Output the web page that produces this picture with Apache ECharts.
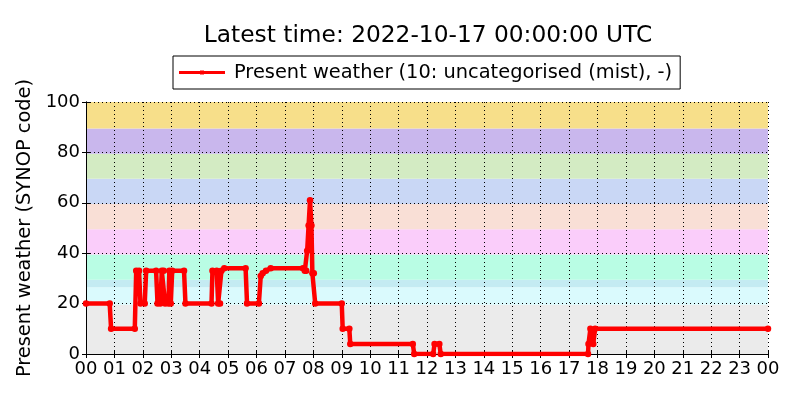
<!DOCTYPE html>
<html>
<head>
<meta charset="utf-8">
<script src="https://cdn.jsdelivr.net/npm/echarts@6/dist/echarts.min.js"></script>
<style>html,body{margin:0;padding:0;background:#fff}#c{width:800px;height:400px}</style>
</head>
<body>
<div id="c"></div>
<script>
// Observation times (HH:MM) and SYNOP present weather codes
const times = ["00:00","00:50","00:53","01:43","01:46","01:52","01:55","02:04","02:07","02:28","02:31","02:37","02:40","02:44","02:47","02:54","02:56","02:59","03:02","03:27","03:30",
  "04:25","04:27","04:36","04:39","04:43","04:46","04:52","05:37","05:40","06:05","06:09","06:13","06:20","06:30","07:38","07:42","07:45","07:47","07:50","07:53","07:56","07:58","08:01","08:04",
  "09:00","09:02","09:16","09:18","11:30","11:33","12:13","12:16","12:26","12:29","17:40","17:41","17:45","17:51","17:55","24:00"];
const codes = [20,20,10,10,33,33,20,20,33,33,20,20,33,33,20,20,33,20,33,33,20,
  20,33,33,20,20,33,34,34,20,20,31,32,33,34,34,33,33,41,51,61,51,32,32,20,
  20,10,10,4,4,0,0,4,4,0,0,4,10,4,10,10];
const hourLabels = ["00","01","02","03","04","05","06","07","08","09","10","11","12","13","14","15","16","17","18","19","20","21","22","23","00"];
// SYNOP code bands: [lower, upper, colour]
const bandLow = [0, 19.5, 26.5, 29.5, 39.5, 49.5, 59.5, 69.5, 79.5, 89.5];
const bandHigh = [19.5, 26.5, 29.5, 39.5, 49.5, 59.5, 69.5, 79.5, 89.5, 100];
const bandColors = ["#ebebeb","#dafafd","#c4ebf2","#b9fde4","#facdfa","#f9dfd6","#c9d7f5","#d3ebc3","#c9b7ed","#f7df8a"];
const seriesName = "Present weather (10: uncategorised (mist), -)";
const titleText = "Latest time: 2022-10-17 00:00:00 UTC";

function toHours(t){ const p=t.split(":"); return (+p[0]) + (+p[1])/60; }
const lineData = times.map((t,i)=>[toHours(t), codes[i]]);
const bandData = bandLow.map((l,i)=>[l, bandHigh[i], i]);

const FONT = "DejaVu Sans";
const chart = echarts.init(document.getElementById('c'), null, {renderer:'canvas'});
const xLab = {fontFamily:FONT, fontSize:18, color:'#000', margin:6, formatter:(v)=>hourLabels[Math.round(v)]};
chart.setOption({
  animation:false,
  backgroundColor:'#fff',
  title:{text:titleText, left:423, top:19, textAlign:'center',
    textStyle:{fontFamily:FONT, fontSize:23.3, fontWeight:'normal', color:'#000'}},
  legend:{data:[seriesName], left:173, top:56, padding:[7,8,7,6], borderColor:'#000', borderWidth:1,
    itemWidth:46, itemHeight:6, backgroundColor:'#fff', borderRadius:0,
    icon:'path://M0,0L0.01,0L0.01,1.5L21,1.5L21,1L25,1L25,1.5L46,1.5L46,4.5L25,4.5L25,5L21,5L21,4.5L0.01,4.5L0.01,6L0,6Z',
    textStyle:{fontFamily:FONT, fontSize:19.4, color:'#000', padding:[0,0,0,4]}},
  grid:{left:86, right:32, top:102, bottom:46, containLabel:false},
  xAxis:[{type:'value', min:0, max:24, interval:1, z:3,
      axisLine:{show:true, lineStyle:{color:'#000', width:1}},
      axisTick:{show:true, inside:true, length:4, lineStyle:{color:'#000'}},
      axisLabel:xLab,
      splitLine:{show:true, lineStyle:{color:'#000', type:[1,3], width:1}}},
    {type:'value', min:0, max:24, interval:1, position:'top', z:3,
      axisLine:{show:true, lineStyle:{color:'#000', width:1}},
      axisTick:{show:true, inside:true, length:4, lineStyle:{color:'#000'}},
      axisLabel:{show:false}, splitLine:{show:false}}],
  yAxis:[{type:'value', min:0, max:100, interval:20, z:3,
      name:'Present weather (SYNOP code)', nameLocation:'middle', nameGap:46,
      nameTextStyle:{fontFamily:FONT, fontSize:19.4, color:'#000'},
      axisLine:{show:true, lineStyle:{color:'#000', width:1}},
      axisTick:{show:true, inside:true, length:4, lineStyle:{color:'#000'}},
      axisLabel:{fontFamily:FONT, fontSize:18, color:'#000', margin:6},
      splitLine:{show:true, lineStyle:{color:'#000', type:[1,3], width:1}}},
    {type:'value', min:0, max:100, interval:20, position:'right', z:3,
      axisLine:{show:true, lineStyle:{color:'#000', width:1}},
      axisTick:{show:true, inside:true, length:4, lineStyle:{color:'#000'}},
      axisLabel:{show:false}, splitLine:{show:false}}],
  series:[
    {type:'custom', name:'bands', z:1, silent:true, data:bandData, clip:true,
      renderItem:function(params, api){
        const lo=api.value(0), hi=api.value(1), idx=api.value(2);
        const p1=api.coord([0,hi]), p2=api.coord([24,lo]);
        return {type:'rect', shape:{x:p1[0], y:p1[1], width:p2[0]-p1[0], height:p2[1]-p1[1]},
          style:{fill:bandColors[idx]}};
      }},
    {type:'line', name:seriesName, z:5, data:lineData, symbol:'circle', symbolSize:6.5, showAllSymbol:true,
      lineStyle:{color:'#ff0000', width:4.5}, itemStyle:{color:'#ff0000'}}
  ]
});
</script>
</body>
</html>
